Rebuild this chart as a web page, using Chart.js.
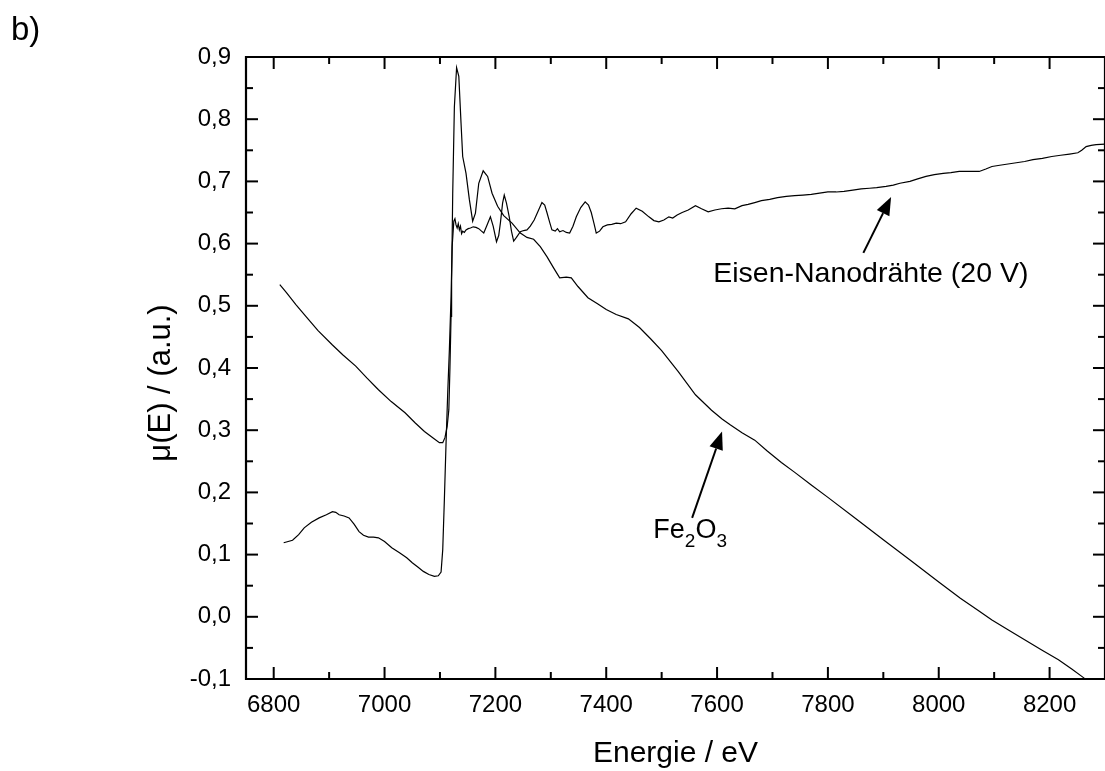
<!DOCTYPE html>
<html>
<head>
<meta charset="utf-8">
<script src="https://cdn.jsdelivr.net/npm/chart.js@4.4.1/dist/chart.umd.min.js"></script>
<style>
	html, body { margin: 0; padding: 0; background: #fff; }
	#wrap { position: relative; width: 1105px; height: 771px; overflow: hidden; }
</style>
</head>
<body>
<div id="wrap"><canvas id="chart-xanes" width="1105" height="771"></canvas></div>
<script>
// Tick labels
const X_TICKS = [6800, 7000, 7200, 7400, 7600, 7800, 8000, 8200];
const Y_TICKS = [-0.1, 0, 0.1, 0.2, 0.3, 0.4, 0.5, 0.6, 0.7, 0.8, 0.9];
const Y_TICK_LABELS = ["-0,1", "0,0", "0,1", "0,2", "0,3", "0,4", "0,5", "0,6", "0,7", "0,8", "0,9"];

// Fe2O3 reference
const FE2O3_E = [6811, 6823, 6840, 6858, 6880, 6906, 6925, 6948, 6968, 6989, 7012, 7037, 7055, 7072, 7087, 7099, 7105, 7109, 7113, 7116, 7118, 7120, 7121, 7123, 7126, 7130, 7134, 7138, 7141, 7147, 7153, 7159, 7164, 7170, 7178, 7186, 7194, 7204, 7215, 7230, 7245, 7257, 7269, 7281, 7293, 7305, 7316, 7328, 7337, 7349, 7367, 7385, 7400, 7418, 7440, 7460, 7480, 7500, 7530, 7561, 7590, 7609, 7623, 7645, 7668, 7690, 7716, 7739, 7770, 7800, 7850, 7900, 7950, 8000, 8039, 8070, 8096, 8125, 8155, 8185, 8216, 8240, 8263, 8280];
const FE2O3_MU = [0.534, 0.521, 0.502, 0.483, 0.460, 0.437, 0.421, 0.403, 0.384, 0.365, 0.346, 0.328, 0.312, 0.298, 0.288, 0.280, 0.280, 0.288, 0.306, 0.333, 0.400, 0.483, 0.540, 0.680, 0.820, 0.883, 0.869, 0.794, 0.740, 0.713, 0.671, 0.636, 0.649, 0.697, 0.717, 0.708, 0.681, 0.660, 0.645, 0.633, 0.617, 0.610, 0.607, 0.595, 0.579, 0.561, 0.545, 0.546, 0.545, 0.531, 0.513, 0.503, 0.494, 0.486, 0.479, 0.465, 0.447, 0.428, 0.394, 0.357, 0.332, 0.318, 0.309, 0.296, 0.284, 0.267, 0.248, 0.233, 0.212, 0.192, 0.158, 0.124, 0.090, 0.056, 0.030, 0.011, -0.005, -0.021, -0.037, -0.053, -0.069, -0.084, -0.099, -0.109];

// Eisen-Nanodrähte (20 V)
const WIRES_E = [6818, 6834, 6845, 6855, 6868, 6882, 6895, 6906, 6912, 6918, 6927, 6936, 6945, 6954, 6962, 6971, 6980, 6989, 7000, 7013, 7027, 7040, 7050, 7060, 7070, 7080, 7090, 7097, 7102, 7105, 7108, 7111, 7114, 7117, 7120, 7122, 7125, 7127, 7129, 7131, 7133, 7135, 7137, 7139, 7141, 7144, 7147, 7151, 7155, 7160, 7165, 7170, 7175, 7179, 7185, 7191, 7196, 7202, 7206, 7209, 7213, 7216, 7220, 7225, 7229, 7233, 7238, 7245, 7251, 7257, 7263, 7270, 7277, 7284, 7289, 7293, 7298, 7302, 7308, 7312, 7316, 7322, 7328, 7334, 7340, 7346, 7354, 7362, 7368, 7373, 7378, 7382, 7388, 7394, 7402, 7410, 7418, 7426, 7435, 7445, 7454, 7465, 7477, 7486, 7495, 7504, 7513, 7520, 7528, 7537, 7548, 7561, 7572, 7584, 7596, 7608, 7620, 7632, 7645, 7656, 7668, 7680, 7695, 7709, 7725, 7740, 7755, 7770, 7785, 7800, 7815, 7829, 7845, 7860, 7875, 7888, 7905, 7918, 7930, 7948, 7962, 7977, 7992, 8008, 8022, 8037, 8055, 8073, 8085, 8096, 8110, 8125, 8140, 8155, 8170, 8187, 8204, 8220, 8236, 8251, 8258, 8266, 8275, 8284, 8300];
const WIRES_MU = [0.119, 0.123, 0.132, 0.143, 0.152, 0.159, 0.164, 0.169, 0.168, 0.164, 0.162, 0.159, 0.149, 0.137, 0.131, 0.128, 0.128, 0.127, 0.121, 0.111, 0.103, 0.095, 0.087, 0.080, 0.073, 0.068, 0.065, 0.066, 0.072, 0.108, 0.190, 0.280, 0.360, 0.430, 0.515, 0.595, 0.636, 0.640, 0.630, 0.625, 0.632, 0.622, 0.628, 0.616, 0.620, 0.618, 0.622, 0.624, 0.625, 0.627, 0.626, 0.624, 0.620, 0.617, 0.630, 0.643, 0.628, 0.603, 0.613, 0.633, 0.665, 0.678, 0.665, 0.643, 0.620, 0.604, 0.610, 0.619, 0.621, 0.622, 0.628, 0.638, 0.652, 0.666, 0.662, 0.650, 0.634, 0.622, 0.620, 0.624, 0.619, 0.621, 0.618, 0.617, 0.628, 0.643, 0.658, 0.667, 0.662, 0.650, 0.632, 0.617, 0.620, 0.627, 0.630, 0.631, 0.633, 0.632, 0.635, 0.648, 0.657, 0.652, 0.643, 0.637, 0.635, 0.638, 0.643, 0.641, 0.646, 0.650, 0.654, 0.661, 0.656, 0.651, 0.654, 0.656, 0.657, 0.656, 0.661, 0.663, 0.666, 0.669, 0.671, 0.674, 0.676, 0.677, 0.678, 0.679, 0.681, 0.683, 0.683, 0.684, 0.686, 0.688, 0.689, 0.690, 0.692, 0.694, 0.697, 0.700, 0.704, 0.708, 0.711, 0.713, 0.714, 0.716, 0.716, 0.716, 0.720, 0.724, 0.726, 0.728, 0.730, 0.732, 0.735, 0.737, 0.740, 0.742, 0.744, 0.746, 0.750, 0.756, 0.758, 0.759, 0.760];

const FONT = "'Liberation Sans', Arial, Helvetica, sans-serif";

const toPoints = (xs, ys) => xs.map((x, i) => ({ x: x, y: ys[i] }));

// Arrows and labels, in data units
const NOTES = [
	{ text: "Eisen-Nanodrähte (20 V)", at: [7593, 0.539], from: [7864, 0.585], to: [7914, 0.675] },
	{ text: "Fe2O3", at: [7485, 0.127], from: [7555, 0.159], to: [7609, 0.298] },
];

const line = (ctx, x1, y1, x2, y2) => {
	ctx.beginPath();
	ctx.moveTo(x1, y1);
	ctx.lineTo(x2, y2);
	ctx.stroke();
};

const arrow = (ctx, x1, y1, x2, y2) => {
	const ang = Math.atan2(y2 - y1, x2 - x1);
	const len = 18, half = 7;
	const bx = x2 - len * Math.cos(ang), by = y2 - len * Math.sin(ang);
	ctx.lineWidth = 2;
	line(ctx, x1, y1, bx, by);
	ctx.beginPath();
	ctx.moveTo(x2, y2);
	ctx.lineTo(bx + half * Math.sin(ang), by - half * Math.cos(ang));
	ctx.lineTo(bx - half * Math.sin(ang), by + half * Math.cos(ang));
	ctx.closePath();
	ctx.fill();
};

// Frame, inward ticks, titles, notes
const framePlugin = {
	id: "frame",
	afterDraw(chart) {
		const { ctx, chartArea: a, scales } = chart;
		const x = scales.x, y = scales.y;
		ctx.save();
		ctx.strokeStyle = "#000";
		ctx.fillStyle = "#000";
		ctx.lineWidth = 2.2;
		line(ctx, a.left, a.top - 1, a.left, a.bottom + 1);
		line(ctx, a.left - 1, a.bottom, a.right, a.bottom);
		line(ctx, a.left - 1, a.top, a.right, a.top);
		line(ctx, a.right, a.top, a.right, a.bottom);

		ctx.lineWidth = 2;
		X_TICKS.forEach((v) => {
			const px = x.getPixelForValue(v);
			line(ctx, px, a.bottom, px, a.bottom - 12);
			line(ctx, px, a.top, px, a.top + 12);
			const pm = x.getPixelForValue(v + 100);
			line(ctx, pm, a.bottom, pm, a.bottom - 7);
			line(ctx, pm, a.top, pm, a.top + 7);
		});
		Y_TICKS.forEach((v) => {
			const py = y.getPixelForValue(v);
			line(ctx, a.left, py, a.left + 12, py);
			line(ctx, a.right, py, a.right - 12, py);
			if (v < 0.9) {
				const pm = y.getPixelForValue(v + 0.05);
				line(ctx, a.left, pm, a.left + 7, pm);
				line(ctx, a.right, pm, a.right - 7, pm);
			}
		});

		// axis titles
		ctx.textBaseline = "alphabetic";
		ctx.textAlign = "center";
		ctx.font = "30px " + FONT;
		ctx.fillText("Energie / eV", (a.left + a.right) / 2, 762);
		ctx.save();
		ctx.translate(170, 383);
		ctx.rotate(-Math.PI / 2);
		ctx.font = "31px " + FONT;
		ctx.fillText("μ(E) / (a.u.)", 0, 0);
		ctx.restore();

		ctx.textAlign = "left";
		ctx.font = "33px " + FONT;
		ctx.fillText("b)", 11, 40);

		// notes
		NOTES.forEach((n) => {
			const tx = x.getPixelForValue(n.at[0]), ty = y.getPixelForValue(n.at[1]);
			if (n.text === "Fe2O3") {
				let cx = tx;
				const parts = [["Fe", 0, 27], ["2", 9, 19], ["O", 0, 27], ["3", 9, 19]];
				parts.forEach(([s, dy, fs]) => {
					ctx.font = fs + "px " + FONT;
					ctx.fillText(s, cx, ty + dy);
					cx += ctx.measureText(s).width;
				});
			} else {
				ctx.font = "28.5px " + FONT;
				ctx.fillText(n.text, tx, ty);
			}
			arrow(ctx, x.getPixelForValue(n.from[0]), y.getPixelForValue(n.from[1]),
				x.getPixelForValue(n.to[0]), y.getPixelForValue(n.to[1]));
		});
		ctx.restore();
	},
};

const DATA = {
	datasets: [
		{
			label: "Fe2O3",
			data: toPoints(FE2O3_E, FE2O3_MU),
			borderColor: "#000",
			borderWidth: 1.2,
			pointRadius: 0,
			tension: 0,
		},
		{
			label: "Eisen-Nanodrähte (20 V)",
			data: toPoints(WIRES_E, WIRES_MU),
			borderColor: "#000",
			borderWidth: 1.2,
			pointRadius: 0,
			tension: 0,
		},
	],
};

const CONFIG = {
	type: "line",
	data: DATA,
	plugins: [framePlugin],
	options: {
		responsive: false,
		animation: false,
		events: [],
		layout: {
			padding: { top: 57, right: -8, left: 0, bottom: 0 },
		},
		plugins: {
			legend: { display: false },
			tooltip: { enabled: false },
			title: { display: false },
		},
		scales: {
			x: {
				type: "linear",
				min: 6750,
				max: 8300,
				afterFit: (s) => { s.height = 92; },
				afterBuildTicks: (s) => { s.ticks = X_TICKS.map((v) => ({ value: v })); },
				border: { display: false },
				grid: { display: false, drawTicks: false },
				ticks: {
					color: "#000",
					padding: 12,
					maxRotation: 0,
					font: { family: FONT, size: 24 },
					callback: (v) => String(v),
				},
			},
			y: {
				type: "linear",
				min: -0.1,
				max: 0.9,
				afterFit: (s) => { s.width = 246; },
				afterBuildTicks: (s) => { s.ticks = Y_TICKS.map((v) => ({ value: v })); },
				border: { display: false },
				grid: { display: false, drawTicks: false },
				ticks: {
					color: "#000",
					padding: 15,
					font: { family: FONT, size: 24 },
					callback: (v, i) => Y_TICK_LABELS[i],
				},
			},
		},
	},
};

const WRAPPER = document.getElementById("chart-xanes");
if (WRAPPER) {
	new Chart(WRAPPER, CONFIG);
}
</script>
</body>
</html>
